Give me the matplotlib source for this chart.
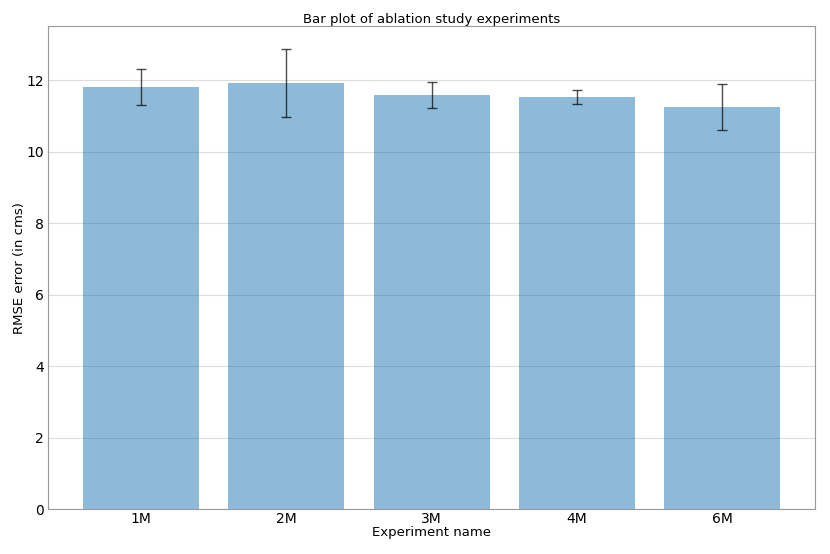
import matplotlib
matplotlib.use('Agg')
import matplotlib.pyplot as plt
import numpy as np

# Ablation study results
experiments = ['1M', '2M', '3M', '4M', '6M']
rmse_mean = [11.80, 11.92, 11.575, 11.525, 11.24]
rmse_std = [0.50, 0.95, 0.36, 0.19, 0.64]

x_pos = np.arange(len(experiments))

fig, ax = plt.subplots(figsize=(8.3, 5.54), dpi=100)
ax.bar(x_pos, rmse_mean, yerr=rmse_std, align='center', alpha=0.5,
       color='#1f77b4', ecolor='black',
       error_kw={'alpha': 0.7, 'capsize': 3.5, 'elinewidth': 1, 'capthick': 1})

ax.set_xticks(x_pos)
ax.set_xticklabels(experiments)
ax.set_ylabel('RMSE error (in cms)', fontsize=9.5, labelpad=0)
ax.set_xlabel('Experiment name', fontsize=9.5, labelpad=0)
ax.set_title('Bar plot of ablation study experiments', fontsize=9.5, pad=2)

ax.yaxis.grid(True, color='#dddddd', linewidth=0.8)
ax.set_axisbelow(True)
ax.tick_params(axis='both', length=0, labelsize=10, pad=3)
ax.tick_params(axis='x', pad=2)
for s in ax.spines.values():
    s.set_color('#999999')

plt.subplots_adjust(left=0.058, right=0.982, top=0.953, bottom=0.081)
plt.savefig('out.png')
